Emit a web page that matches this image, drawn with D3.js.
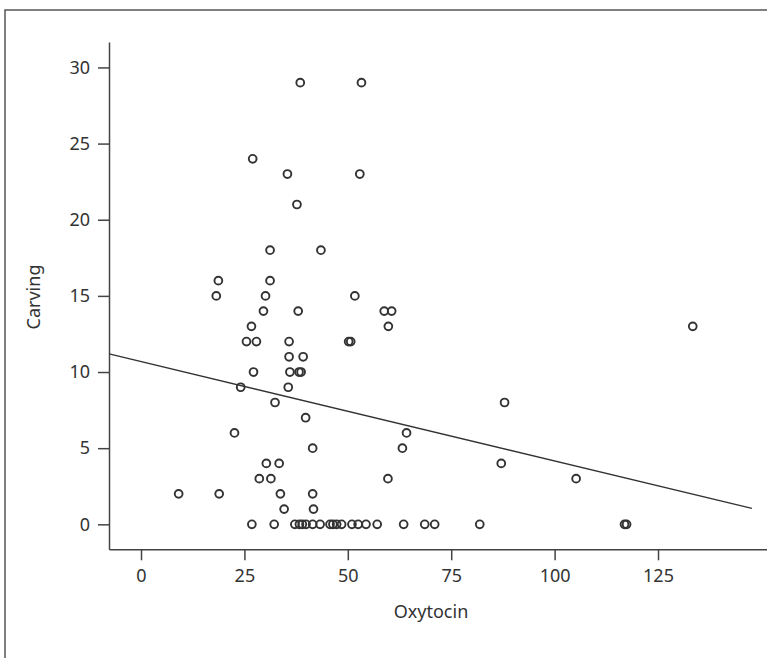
<!DOCTYPE html>
<html>
<head>
<meta charset="utf-8">
<script src="https://cdn.jsdelivr.net/npm/d3@7"></script>
<style>
  body { margin: 0; background: #fff; }
  svg text { font-family: "Noto Sans", "Open Sans", sans-serif; fill: #333; }
</style>
</head>
<body>
<script>
// values
var oxytocin = [38.5, 53.3, 27.0, 35.4, 52.9, 37.7, 31.2, 43.5, 18.7, 31.2,
                18.2, 30.1, 51.7, 29.6, 38.0, 58.8, 60.6, 26.7, 59.8, 133.4,
                25.5, 27.9, 35.8, 50.2, 50.7, 35.8, 39.2, 27.2, 36.0, 38.2,
                38.7, 24.1, 35.6, 32.4, 87.9, 39.8, 22.6, 64.2, 41.5, 63.2,
                30.3, 33.4, 87.1, 28.6, 31.4, 59.7, 105.2, 9.1, 18.9, 33.7,
                41.5, 34.6, 41.7,
                26.8, 32.2, 37.2, 38.3, 39.0, 39.9, 41.5, 43.3, 45.7, 46.4,
                47.3, 48.5, 51.0, 52.5, 54.4, 57.1, 63.5, 68.6, 71.0, 81.9,
                116.9, 117.4];
var carving = [29, 29, 24, 23, 23, 21, 18, 18, 16, 16,
               15, 15, 15, 14, 14, 14, 14, 13, 13, 13,
               12, 12, 12, 12, 12, 11, 11, 10, 10, 10,
               10, 9, 9, 8, 8, 7, 6, 6, 5, 5,
               4, 4, 4, 3, 3, 3, 3, 2, 2, 2,
               2, 1, 1,
               0, 0, 0, 0, 0, 0, 0, 0, 0, 0,
               0, 0, 0, 0, 0, 0, 0, 0, 0, 0,
               0, 0];
var xTicks = [0, 25, 50, 75, 100, 125];
var yTicks = [0, 5, 10, 15, 20, 25, 30];
// fitted line
var fitIntercept = 10.69;
var fitSlope = -0.0653;
var fitRange = [-7.7, 147.7];

var width = 767, height = 658;

var svg = d3.select("body").append("svg")
  .attr("width", width)
  .attr("height", height);

// outer frame
svg.append("rect")
  .attr("x", 5).attr("y", 10)
  .attr("width", 800).attr("height", 700)
  .attr("fill", "none")
  .attr("stroke", "#555")
  .attr("stroke-width", 1.5);

var xScale = d3.scaleLinear()
  .domain([-7.74, 151.35])
  .range([109, 767]);

var yScale = d3.scaleLinear()
  .domain([-1.64, 31.67])
  .range([549.3, 42]);

var xAxis = svg.append("g")
  .attr("transform", "translate(0,549.3)")
  .call(d3.axisBottom(xScale).tickValues(xTicks).tickSize(11).tickSizeOuter(0).tickPadding(9));

var yAxis = svg.append("g")
  .attr("transform", "translate(109,0)")
  .call(d3.axisLeft(yScale).tickValues(yTicks).tickSize(11).tickSizeOuter(0).tickPadding(8));

svg.selectAll(".domain, .tick line")
  .attr("stroke", "#444")
  .attr("stroke-width", 1.5);
svg.selectAll(".tick text")
  .attr("font-size", 18)
  .attr("fill", "#333");

// regression line
svg.append("line")
  .attr("x1", xScale(fitRange[0]))
  .attr("y1", yScale(fitIntercept + fitSlope * fitRange[0]))
  .attr("x2", xScale(fitRange[1]))
  .attr("y2", yScale(fitIntercept + fitSlope * fitRange[1]))
  .attr("stroke", "#333")
  .attr("stroke-width", 1.4);

// points
svg.selectAll("circle.pt")
  .data(oxytocin)
  .enter()
  .append("circle")
  .attr("class", "pt")
  .attr("cx", function(d){ return xScale(d); })
  .attr("cy", function(d, i){ return yScale(carving[i]); })
  .attr("r", 3.9)
  .attr("fill", "none")
  .attr("stroke", "#333")
  .attr("stroke-width", 1.9);

// axis titles
svg.append("text")
  .attr("x", 431)
  .attr("y", 618)
  .attr("text-anchor", "middle")
  .attr("font-size", 18)
  .text("Oxytocin");

svg.append("text")
  .attr("transform", "translate(40,297) rotate(-90)")
  .attr("text-anchor", "middle")
  .attr("font-size", 18)
  .text("Carving");
</script>
</body>
</html>
